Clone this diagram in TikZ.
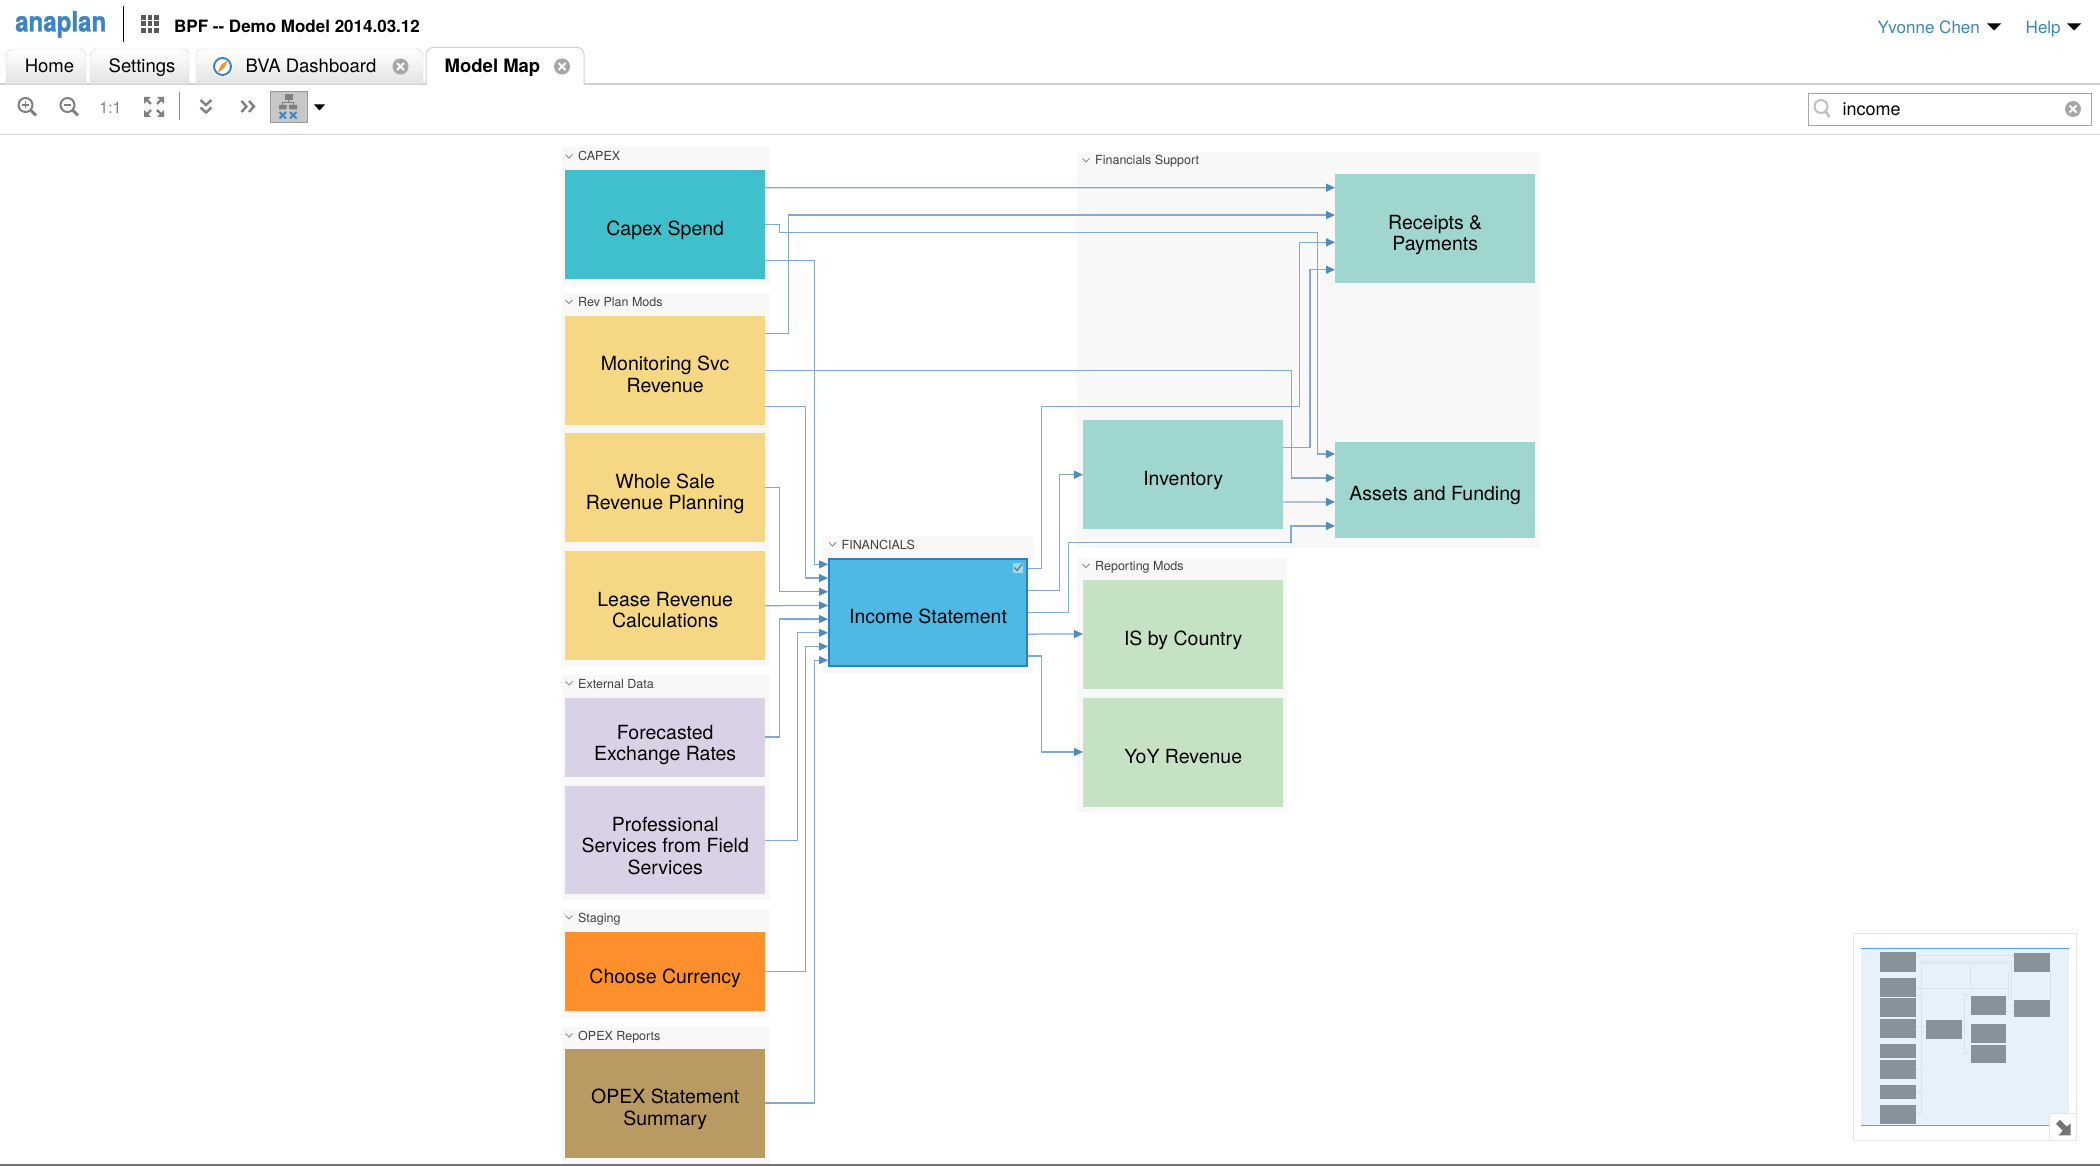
\documentclass[tikz,border=0pt]{standalone}
\usepackage{fontspec}
\usepackage{graphicx}
\setmainfont{TeX Gyre Heros}
\usetikzlibrary{arrows.meta, positioning, calc}

\definecolor{capexteal}{HTML}{40C0CC}
\definecolor{revyellow}{HTML}{F5D784}
\definecolor{extlilac}{HTML}{D9D2E6}
\definecolor{stagorange}{HTML}{FD8F2C}
\definecolor{opexbrown}{HTML}{B99A62}
\definecolor{fintblue}{HTML}{4DB9E4}
\definecolor{finborder}{HTML}{2F7FBF}
\definecolor{suppteal}{HTML}{9FD6CF}
\definecolor{repgreen}{HTML}{C5E3C4}
\definecolor{linkblue}{HTML}{80A9D3}
\definecolor{tipblue}{HTML}{4F8BBF}
\definecolor{logoblue}{HTML}{3D85C0}
\definecolor{grpgray}{HTML}{F8F8F8}
\definecolor{iconmid}{HTML}{808080}
\definecolor{minibox}{HTML}{87929B}
\definecolor{miniblue}{HTML}{E6F1FC}
\definecolor{minifaint}{HTML}{D6E3EE}
\definecolor{minirule}{HTML}{4DA3F0}

\tikzset{
  modbox/.style={minimum width=200pt, anchor=north west, inner sep=2pt, align=center,
    font=\fontsize{19.5}{21.4}\selectfont, text depth=0pt, text height=22pt},
  twoline/.style={text height=44pt},
  threeline/.style={text height=68pt},
  grplabel/.style={anchor=base west, inner sep=0pt, text=black!75, font=\fontsize{12.5}{14}\selectfont},
  tablabel/.style={anchor=base, inner sep=0pt, font=\fontsize{18.5}{20}\selectfont},
  headlabel/.style={anchor=base west, inner sep=0pt, font=\fontsize{17}{19}\selectfont},
  tabbox/.style={draw=black!18, top color=white, bottom color=black!11, rounded corners=7pt},
  link/.style={draw=linkblue, line width=1.25pt, -{Triangle[length=9pt, width=8pt, fill=tipblue, color=tipblue]}},
  toolicon/.style={draw=iconmid, line width=2pt},
  closeicon/.style={circle, fill=black!35, minimum size=16pt, inner sep=0pt},
  minirect/.style={fill=minibox},
}

\begin{document}
\begin{tikzpicture}[x=1pt, y=-1pt]
  \useasboundingbox (0,0) rectangle (2100,1166);

  % Title bar
  \node[anchor=base west, inner sep=0pt, text=logoblue, font=\fontsize{28}{30}\selectfont\bfseries\addfontfeature{FakeBold=1.2}] (logo) at (15,31.5) {\scalebox{.86}[1]{anaplan}};
  \draw[line width=1.2pt] (123.5,6) -- (123.5,42);
  \foreach \i in {0,1,2} \foreach \j in {0,1,2}
    \fill[black!65] (141+\i*6.5,15+\j*6.5) rectangle ++(4.8,4.8);
  \node[headlabel, font=\fontsize{17}{19}\selectfont\bfseries] (title) at (174,32.5) {BPF -{}- Demo Model 2014.03.12};
  \node[headlabel, text=logoblue] (user) at (1877.5,33.2) {Yvonne Chen};
  \fill (1987,23.5) -- (2001,23.5) -- (1994,30.5) -- cycle;
  \node[headlabel, text=logoblue] (help) at (2025.5,33.2) {Help};
  \fill (2067,23.5) -- (2081,23.5) -- (2074,30.5) -- cycle;

  % Tabs
  \draw[black!18, line width=1.5pt] (0,84) -- (2100,84);
  \draw[black!18, line width=1.5pt] (0,134.5) -- (2100,134.5);
  \draw[tabbox] (6,84) -- (6,49) -- (86,49) -- (86,84);
  \draw[tabbox] (90,84) -- (90,49) -- (189,49) -- (189,84);
  \draw[tabbox] (196,84) -- (196,49) -- (423,49) -- (423,84);
  \draw[draw=black!18, fill=white, rounded corners=7pt, line width=1pt] (426,85) -- (426,47.5) -- (584,47.5) -- (584,85);
  \node[tablabel] (home) at (49.5,72.8) {Home};
  \node[tablabel] (settings) at (142,72.8) {Settings};
  \node[tablabel, anchor=base west] (bva) at (245.5,72.8) {BVA Dashboard};
  \node[tablabel, anchor=base west, font=\fontsize{18.5}{20}\selectfont\bfseries] (modmap) at (444.5,72.8) {Model Map};
  \fill[white] (222.5,66.5) circle (10.5);
  \draw[logoblue, line width=2pt] (222.5,66.5) circle (8.5);
  \fill[stagorange] (228,60) -- (224,68) -- (217,73) -- (221,65) -- cycle;
  \foreach \n/\x/\y in {closebva/400.5/66.5, closemap/562/66.5, closesrch/2073/109} {
    \node[closeicon] (\n) at (\x,\y) {};
  }
  \foreach \n in {closebva, closemap, closesrch} {
    \draw[white, line width=2pt] ([shift={(-3.5pt,-3.5pt)}]\n.center) -- ([shift={(3.5pt,3.5pt)}]\n.center)
      ([shift={(-3.5pt,3.5pt)}]\n.center) -- ([shift={(3.5pt,-3.5pt)}]\n.center);
  }

  % Toolbar
  \foreach \x/\s in {25.5/1, 67.5/0} {
    \draw[toolicon] (\x,105) circle (7);
    \draw[toolicon, line width=3pt] (\x+5,110) -- (\x+10.5,115.5);
    \draw[toolicon, line width=1.6pt] (\x-3.5,105) -- (\x+3.5,105);
    \ifnum\s=1 \draw[toolicon, line width=1.6pt] (\x,101.5) -- (\x,108.5); \fi
  }
  \node[inner sep=0pt, text=iconmid, font=\fontsize{16}{18}\selectfont] (oneone) at (110.5,108) {1:1};
  \foreach \sx/\sy in {1/1, 1/-1, -1/1, -1/-1} {
    \fill[iconmid] (154+\sx*10,107+\sy*10) -- (154+\sx*3,107+\sy*10) -- (154+\sx*10,107+\sy*3) -- cycle;
    \draw[iconmid, line width=2.4pt] (154+\sx*8,107+\sy*8) -- (154+\sx*3,107+\sy*3);
  }
  \draw[black!45, line width=1pt] (179.5,92.5) -- (179.5,120);
  \draw[toolicon, line width=2.4pt] (200.5,100) -- (206,105) -- (211.5,100) (200.5,107.5) -- (206,112.5) -- (211.5,107.5);
  \draw[toolicon, line width=2.4pt] (241.5,101) -- (246.5,106.5) -- (241.5,112) (249,101) -- (254,106.5) -- (249,112);
  \draw[draw=black!40, fill=black!22, line width=1pt] (270.5,91.5) rectangle (307,123);
  \fill[black!50] (285,94.5) rectangle (292.5,100);
  \draw[black!50, line width=1pt] (288.7,100) -- (288.7,103) (282.7,105) -- (282.7,103) -- (293,103) -- (293,105);
  \fill[black!50] (279,105) rectangle (286.5,109.5) (289,105) rectangle (297,109.5);
  \draw[logoblue, line width=2pt] (279.5,112) -- (286,118.5) (279.5,118.5) -- (286,112)
    (290,112) -- (296.5,118.5) (290,118.5) -- (296.5,112);
  \fill (314,104.5) -- (325,104.5) -- (319.5,110.5) -- cycle;

  % Search box
  \draw[draw=black!35, fill=white, line width=1pt] (1808.5,93.5) rectangle (2091.5,126);
  \draw[black!25, line width=2pt] (1821,106.5) circle (6.5);
  \draw[black!25, line width=2.6pt] (1825.5,111.5) -- (1829.5,117);
  \node[anchor=base west, inner sep=0pt, font=\fontsize{18}{20}\selectfont] (search) at (1842.5,115.7) {income};
  \node[closeicon] (clearsrch) at (2073,109) {};
  \draw[white, line width=2pt] ([shift={(-3.5pt,-3.5pt)}]clearsrch.center) -- ([shift={(3.5pt,3.5pt)}]clearsrch.center)
    ([shift={(-3.5pt,3.5pt)}]clearsrch.center) -- ([shift={(3.5pt,-3.5pt)}]clearsrch.center);

  % Group backgrounds
  \fill[grpgray] (562,147) rectangle (770,284);
  \fill[grpgray] (562,293) rectangle (770,666);
  \fill[grpgray] (562,675) rectangle (770,900);
  \fill[grpgray] (562,909) rectangle (770,1018);
  \fill[grpgray] (562,1027) rectangle (770,1164);
  \fill[grpgray] (823,536) rectangle (1033,673);
  \fill[grpgray] (1077,152) rectangle (1540,548);
  \fill[grpgray] (1077,558) rectangle (1287,812);

  % Bottom edge of the window
  \fill[black!55] (0,1164.2) rectangle (2100,1166);

  % Group labels
  \foreach \n/\x/\y/\t in {gcapex/578/161/CAPEX, grev/578/306.5/Rev Plan Mods, gext/578/688/External Data,
      gstag/578/922/Staging, gopex/578/1040/OPEX Reports, gfin/841.5/549/FINANCIALS,
      gsupp/1095/165/Financials Support, grep/1095/570.5/Reporting Mods} {
    \node[grplabel] (\n) at (\x,\y) {\t};
    \draw[black!45, line width=.9pt] (\x-12.5,\y-6.5) -- (\x-9,\y-3) -- (\x-5.5,\y-6.5);
  }

  % Modules
  \node[modbox, fill=capexteal, minimum height=109pt] (capex) at (565,169.5) {Capex Spend};
  \node[modbox, twoline, fill=revyellow, minimum height=109pt] (monsvc) at (565,315.5) {Monitoring Svc\\Revenue};
  \node[modbox, twoline, fill=revyellow, minimum height=109pt] (whsale) at (565,433) {Whole Sale\\Revenue Planning};
  \node[modbox, twoline, fill=revyellow, minimum height=109pt] (lease) at (565,551) {Lease Revenue\\Calculations};
  \node[modbox, twoline, fill=extlilac, minimum height=79pt, text height=47pt] (fxrate) at (565,697.3) {Forecasted\\Exchange Rates};
  \node[modbox, threeline, fill=extlilac, minimum height=108pt] (prosvc) at (565,786) {Professional\\Services from Field\\Services};
  \node[modbox, fill=stagorange, minimum height=79pt, text height=24pt] (currency) at (565,932) {Choose Currency};
  \node[modbox, twoline, fill=opexbrown, minimum height=109pt] (opex) at (565,1048.3) {OPEX Statement\\Summary};
  \node[modbox, fill=fintblue, draw=finborder, line width=2pt, minimum width=198pt, minimum height=107.5pt] (income) at (828,557.5) {Income Statement};
  \node[modbox, fill=suppteal, minimum height=109pt] (invent) at (1083,420) {Inventory};
  \node[modbox, twoline, fill=suppteal, minimum height=109pt] (receipts) at (1335,174) {Receipts \&\\Payments};
  \node[modbox, fill=suppteal, minimum height=95.5pt] (assets) at (1335,442) {Assets and Funding};
  \node[modbox, fill=repgreen, minimum height=109pt] (iscountry) at (1083,579.3) {IS by Country};
  \node[modbox, fill=repgreen, minimum height=109pt] (yoy) at (1083,697.3) {YoY Revenue};

  % Check mark on the selected module
  \node[fill=white, fill opacity=.45, minimum size=10pt, inner sep=0pt] (chk) at (1018,567.5) {};
  \draw[black!55, line width=1.2pt] (1014.5,567.5) -- (1017,570.5) -- (1022,564);

  % Ports on the module sides
  \foreach \n/\k in {capex/3, monsvc/3, whsale/1, lease/1, fxrate/1, prosvc/1, currency/1, opex/1, income/5, invent/2} {
    \foreach \i in {1,...,\k}
      \coordinate (\n-o\i) at ($(\n.north east)!1/(2*\k)*(2*\i-1)!(\n.south east)$);
  }
  \foreach \n/\k in {income/8, invent/1, receipts/4, assets/4, iscountry/1, yoy/1} {
    \foreach \i in {1,...,\k}
      \coordinate (\n-i\i) at ($(\n.north west)!1/(2*\k)*(2*\i-1)!(\n.south west)$);
  }

  % Connectors
  \draw[link] (capex-o1) -- (receipts-i1);
  \draw[link] (capex-o2) -- ++(14,0) -- ++(0,8) -- ++(538,0) |- (assets-i1);
  \draw[link] (capex-o3) -- ++(49,0) |- (income-i1);
  \draw[link] (monsvc-o1) -- ++(23,0) |- (receipts-i2);
  \draw[link] (monsvc-o2) -- ++(526,0) |- (assets-i2);
  \draw[link] (monsvc-o3) -- ++(40,0) |- (income-i2);
  \draw[link] (whsale-o1) -- ++(14,0) |- (income-i3);
  \draw[link] (lease-o1) -- (income-i4);
  \draw[link] (fxrate-o1) -- ++(14,0) |- (income-i5);
  \draw[link] (prosvc-o1) -- ++(32,0) |- (income-i6);
  \draw[link] (currency-o1) -- ++(40,0) |- (income-i7);
  \draw[link] (opex-o1) -- ++(49,0) |- (income-i8);
  \draw[link] (income-o1) -- ++(13.7,0) -- ++(0,-162) -- ++(258,0) |- (receipts-i3);
  \draw[link] (income-o2) -- ++(31.5,0) |- (invent-i1);
  \draw[link] (income-o3) -- ++(40.6,0) -- ++(0,-70) -- ++(222.4,0) |- (assets-i4);
  \draw[link] (income-o4) -- (iscountry-i1);
  \draw[link] (income-o5) -- ++(13.7,0) |- (yoy-i1);
  \draw[link] (invent-o1) -- ++(26.6,0) |- (receipts-i4);
  \draw[link] (invent-o2) -- (assets-i3);

  % Navigator thumbnail
  \begin{scope}[shift={(1840,920)}, x=.3333pt, y=-.3333pt]
    \draw[draw=black!10, fill=white, line width=1pt] (40,40) rectangle (708,662);
    \fill[miniblue] (63,85) rectangle (688,618);
    \draw[minirule, line width=1pt] (63,85) -- (688,85) (63,618) -- (628,618);
    % faint links
    \draw[minifaint, line width=1pt] (228,105) -- (523,105) (235,125) -- (520,125) (240,130) -- (515,130)
      (228,205) -- (500,205) (245,140) -- (245,580) -- (228,580) (228,225) -- (245,225)
      (365,325) -- (372,325) (372,222) -- (372,400) -- (392,400) (372,222) -- (392,222)
      (515,130) -- (515,240) (505,160) -- (505,235) (390,130) -- (390,205)
      (630,157) -- (630,240) (497,255) -- (523,255) (497,275) -- (523,275)
      (228,320) -- (258,320) (245,450) -- (228,450) (245,515) -- (228,515);
    \foreach \xa/\ya/\xb/\yb in {120/97/228/155, 120/173/228/230, 120/235/228/292, 120/297/228/353,
        120/373/228/413, 120/419/228/476, 120/495/228/537, 120/556/228/612, 258/300/365/357,
        392/228/497/285, 392/312/497/368, 392/374/497/430, 523/99/629/157, 523/240/629/290}
      \fill[minirect] (\xa,\ya) rectangle (\xb,\yb);
    \draw[draw=black!10, fill=white, line width=1pt] (628,580) rectangle (708,662);
    \fill[black!55] (648,612) -- (660,600) -- (680,620) -- (692,610) -- (692,646) -- (656,646) -- (668,632) -- cycle;
  \end{scope}
\end{tikzpicture}
\end{document}
